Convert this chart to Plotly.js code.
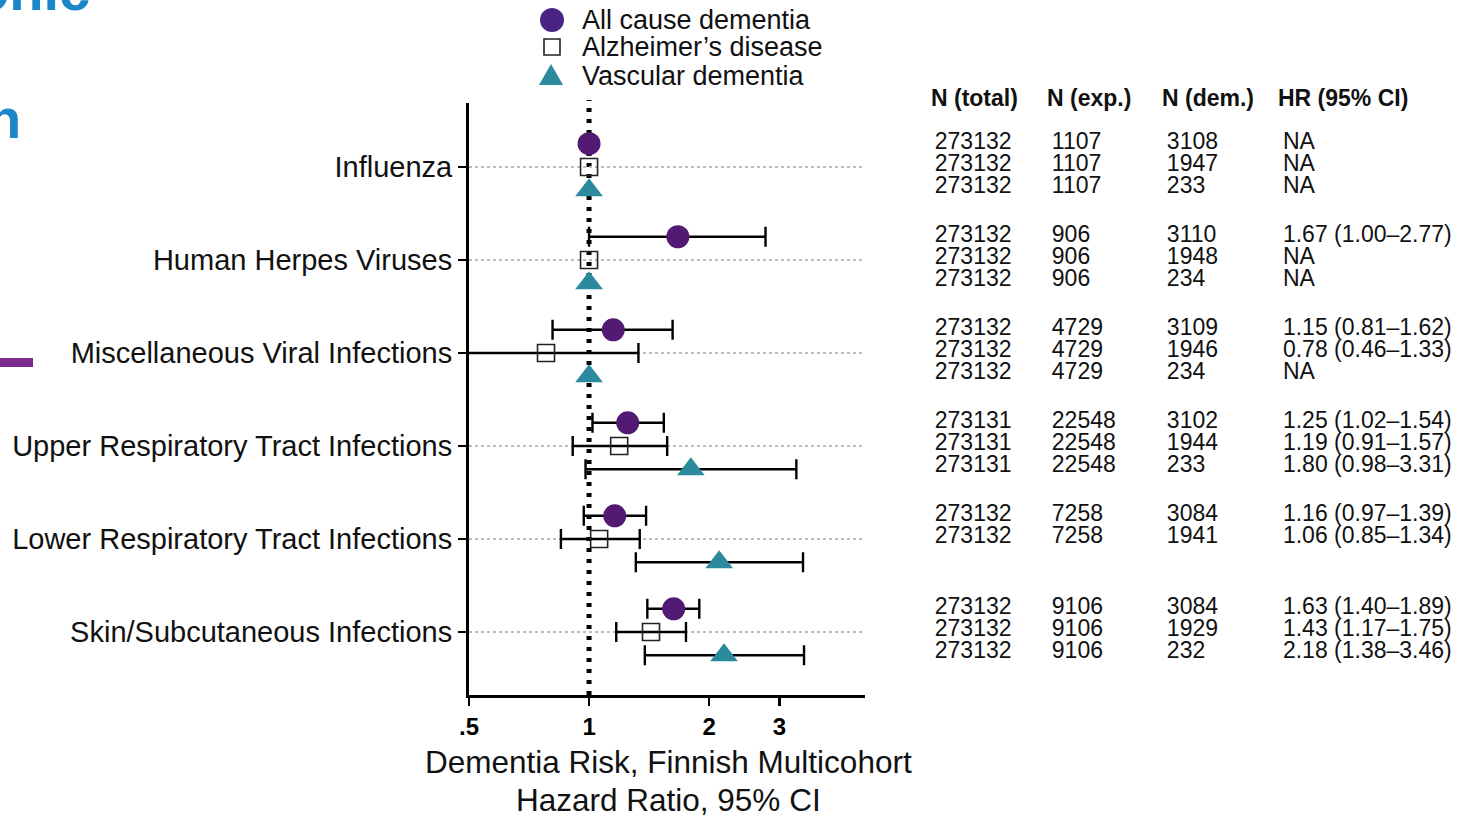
<!DOCTYPE html>
<html>
<head>
<meta charset="utf-8">
<script src="https://cdn.plot.ly/plotly-3.0.1.min.js"></script>
<style>html,body{margin:0;padding:0;background:#fff;}#chart{width:1457px;height:815px;}</style>
</head>
<body>
<div id="chart"></div>
<script>
// ---------------- data ----------------
const categories = ['Influenza', 'Human Herpes Viruses', 'Miscellaneous Viral Infections',
  'Upper Respiratory Tract Infections', 'Lower Respiratory Tract Infections', 'Skin/Subcutaneous Infections'];

const seriesNames = ['All cause dementia', 'Alzheimer\u2019s disease', 'Vascular dementia'];

// Hazard ratios (NA estimates drawn at 1)
const allHR = [1.00, 1.67, 1.15, 1.25, 1.16, 1.63];
const allLo = [null, 1.00, 0.81, 1.02, 0.97, 1.40];
const allHi = [null, 2.77, 1.62, 1.54, 1.39, 1.89];

const adHR = [1.00, 1.00, 0.78, 1.19, 1.06, 1.43];
const adLo = [null, null, 0.46, 0.91, 0.85, 1.17];
const adHi = [null, null, 1.33, 1.57, 1.34, 1.75];

const vdHR = [1.00, 1.00, 1.00, 1.80, 2.12, 2.18];
const vdLo = [null, null, null, 0.98, 1.31, 1.38];
const vdHi = [null, null, null, 3.31, 3.44, 3.46];

// Table columns
const allNTotal = [273132, 273132, 273132, 273131, 273132, 273132];
const adNTotal  = [273132, 273132, 273132, 273131, 273132, 273132];
const vdNTotal  = [273132, 273132, 273132, 273131, null, 273132];

const allNExp = [1107, 906, 4729, 22548, 7258, 9106];
const adNExp  = [1107, 906, 4729, 22548, 7258, 9106];
const vdNExp  = [1107, 906, 4729, 22548, null, 9106];

const allNDem = [3108, 3110, 3109, 3102, 3084, 3084];
const adNDem  = [1947, 1948, 1946, 1944, 1941, 1929];
const vdNDem  = [233, 234, 234, 233, null, 232];

const tableHeaders = ['N (total)', 'N (exp.)', 'N (dem.)', 'HR (95% CI)'];
const xTickVals = [0.5, 1, 2, 3];
const xTickText = ['.5', '1', '2', '3'];
const xTitleLines = ['Dementia Risk, Finnish Multicohort', 'Hazard Ratio, 95% CI'];

// ---------------- styling / layout helpers ----------------
const FONT = 'Liberation Sans, Arial, Helvetica, sans-serif';
const PURPLE = '#521a72';
const TEAL = '#2b8a9d';
const markerOffsets = [-0.25, 0, 0.25];
const tableOffsets = [-0.255, -0.015, 0.215];
const W = 1457, H = 815, ML = 469, MR = 10, MT = 103, MB = 120;
const PW = W - ML - MR, PH = H - MT - MB;
const px = v => (v - ML) / PW;       // pixel -> paper x
const py = v => (H - MB - v) / PH;   // pixel -> paper y

const idx = categories.map((c, i) => i);

function errArrays(hr, lo, hi) {
  return {
    type: 'data', symmetric: false,
    array: hr.map((v, i) => hi[i] == null ? NaN : hi[i] - v),
    arrayminus: hr.map((v, i) => lo[i] == null ? NaN : v - lo[i]),
    color: '#000', thickness: 2.4, width: 10
  };
}

const series = [
  {hr: allHR, lo: allLo, hi: allHi, symbol: 'circle', size: 23, color: PURPLE, line: {width: 0}},
  {hr: adHR, lo: adLo, hi: adHi, symbol: 'square-open', size: 17, color: '#222', line: {width: 1.6}},
  {hr: vdHR, lo: vdLo, hi: vdHi, symbol: 'triangle-up', size: 24, color: TEAL, line: {width: 0}}
];

const traces = series.map((s, k) => ({
  type: 'scatter', mode: 'markers', name: seriesNames[k],
  x: s.hr, y: idx.map(i => i + markerOffsets[k]),
  error_x: errArrays(s.hr, s.lo, s.hi),
  marker: {symbol: s.symbol, size: s.size, color: s.color, line: Object.assign({color: s.color}, s.line)},
  xaxis: 'x', yaxis: 'y', showlegend: false, hoverinfo: 'x+y'
}));

// Table as text traces on a second (hidden) axis pair
function hrText(hr, lo, hi) {
  return hr.map((v, i) => lo[i] == null ? 'NA' :
    v.toFixed(2) + ' (' + lo[i].toFixed(2) + '\u2013' + hi[i].toFixed(2) + ')');
}
const rowsets = [
  {nt: allNTotal, ne: allNExp, nd: allNDem, hr: hrText(allHR, allLo, allHi)},
  {nt: adNTotal, ne: adNExp, nd: adNDem, hr: hrText(adHR, adLo, adHi)},
  {nt: vdNTotal, ne: vdNExp, nd: vdNDem, hr: hrText(vdHR, vdLo, vdHi)}
];
const colX = [55, 172, 287, 403];
const headX = [49, 165, 280, 396];
const colTexts = [[], [], [], []];
const colYs = [];
rowsets.forEach((r, k) => {
  idx.forEach(i => {
    if (r.nt[i] == null) return;
    colYs.push(i + tableOffsets[k]);
    colTexts[0].push(String(r.nt[i]));
    colTexts[1].push(String(r.ne[i]));
    colTexts[2].push(String(r.nd[i]));
    colTexts[3].push(r.hr[i]);
  });
});
colTexts.forEach((t, c) => {
  traces.push({
    type: 'scatter', mode: 'text', x: t.map(() => colX[c]), y: colYs, text: t,
    textposition: 'middle right', textfont: {family: FONT, size: 23, color: '#111'},
    xaxis: 'x2', yaxis: 'y2', showlegend: false, hoverinfo: 'skip', cliponaxis: false
  });
});

const yRange = [5.677, -0.688];

const annotations = [];
tableHeaders.forEach((h, c) => annotations.push({
  xref: 'x2', yref: 'paper', x: headX[c], y: py(98), xanchor: 'left', yanchor: 'middle',
  text: '<b>' + h + '</b>', showarrow: false, font: {family: FONT, size: 23, color: '#111'}
}));
// x-axis title (two lines, placed under the tick labels)
const titleY = [762, 800];
xTitleLines.forEach((t, k) => annotations.push({
  xref: 'x domain', yref: 'paper', x: 0.505, y: py(titleY[k]), xanchor: 'center', yanchor: 'middle',
  text: t, showarrow: false, font: {family: FONT, size: 31.5, color: '#111'}
}));
// manual legend labels
const legY = [20, 47, 76];
seriesNames.forEach((n, k) => annotations.push({
  xref: 'paper', yref: 'paper', x: px(580), y: py(legY[k]), xanchor: 'left', yanchor: 'middle',
  text: n, showarrow: false, font: {family: FONT, size: 27, color: '#111'}
}));
// slide fragments around the figure
annotations.push({xref: 'paper', yref: 'paper', x: px(92), y: py(-10), xanchor: 'right', yanchor: 'middle',
  text: '<b>onic</b>', showarrow: false, font: {family: FONT, size: 56, color: '#1b87c9'}});
annotations.push({xref: 'paper', yref: 'paper', x: px(23), y: py(119), xanchor: 'right', yanchor: 'middle',
  text: '<b>h</b>', showarrow: false, font: {family: FONT, size: 56, color: '#1b87c9'}});

const shapes = [
  // reference line at HR = 1
  {type: 'line', xref: 'x', yref: 'paper', x0: 1, x1: 1, y0: 0, y1: py(100), layer: 'below',
   line: {color: '#000', width: 5, dash: '4px,7px'}},
  // legend glyphs
  {type: 'circle', xref: 'paper', yref: 'paper', xsizemode: 'pixel', ysizemode: 'pixel',
   xanchor: px(552), yanchor: py(20), x0: -12, x1: 12, y0: -12, y1: 12,
   fillcolor: '#4a2482', line: {width: 0}},
  {type: 'rect', xref: 'paper', yref: 'paper', xsizemode: 'pixel', ysizemode: 'pixel',
   xanchor: px(552), yanchor: py(47), x0: -8, x1: 8, y0: -8, y1: 8,
   fillcolor: 'rgba(0,0,0,0)', line: {width: 1.6, color: '#222'}},
  {type: 'path', xref: 'paper', yref: 'paper', xsizemode: 'pixel', ysizemode: 'pixel',
   xanchor: px(551), yanchor: py(75), path: 'M -12 -10 L 12 -10 L 0 11 Z',
   fillcolor: TEAL, line: {width: 0}},
  // purple slide bar
  {type: 'rect', xref: 'paper', yref: 'paper', x0: px(0), x1: px(33), y0: py(367), y1: py(358),
   fillcolor: '#7b2b8c', line: {width: 0}}
];

const layout = {
  width: W, height: H,
  margin: {l: ML, r: MR, t: MT, b: MB, pad: 0},
  paper_bgcolor: '#fff', plot_bgcolor: 'rgba(0,0,0,0)',
  font: {family: FONT, color: '#111'},
  showlegend: false,
  xaxis: {
    type: 'log', domain: [0, 396 / PW], range: [Math.log10(0.5), Math.log10(4.92)],
    tickmode: 'array', tickvals: xTickVals, ticktext: xTickText.map(t => '<b>' + t + '</b>'),
    tickfont: {family: FONT, size: 24, color: '#000'},
    ticks: 'outside', ticklen: 8, tickwidth: 2.5, tickcolor: '#000',
    showline: true, linewidth: 3, linecolor: '#000', showgrid: false, zeroline: false,
    anchor: 'y'
  },
  yaxis: {
    range: yRange, tickmode: 'array', tickvals: idx, ticktext: categories,
    tickfont: {family: FONT, size: 29, color: '#111'},
    ticks: 'outside', ticklen: 8, tickwidth: 2.5, tickcolor: '#000',
    showline: true, linewidth: 3, linecolor: '#000',
    showgrid: true, gridcolor: '#bdbdbd', gridwidth: 2, griddash: 'dot', zeroline: false,
    anchor: 'x'
  },
  xaxis2: {domain: [0.42, 1], range: [0, 567], visible: false, anchor: 'y2'},
  yaxis2: {range: yRange, visible: false, anchor: 'x2'},
  annotations: annotations,
  shapes: shapes
};

Plotly.newPlot('chart', traces, layout, {displayModeBar: false, staticPlot: true});
</script>
</body>
</html>
